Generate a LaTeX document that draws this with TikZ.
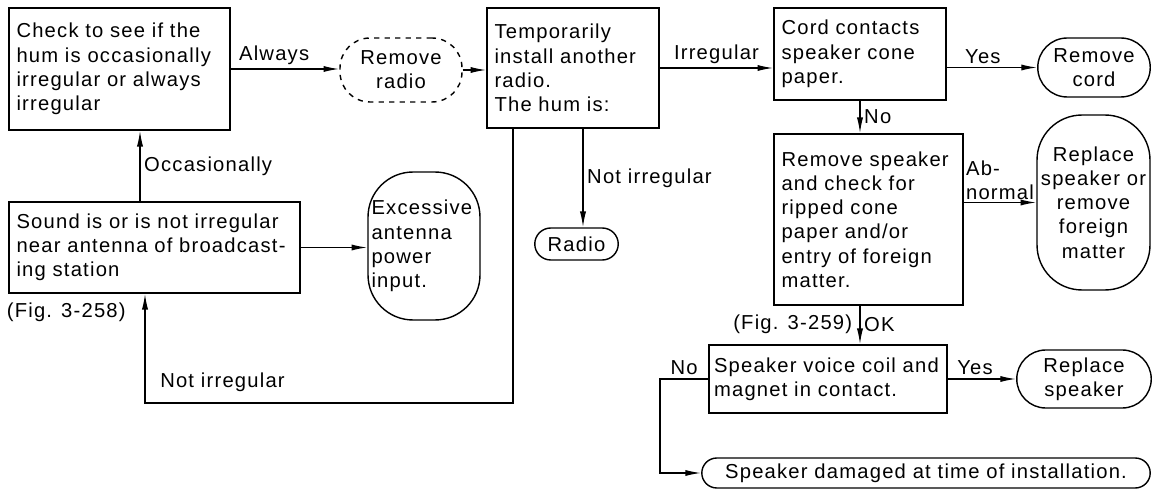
\documentclass[tikz,border=0pt]{standalone}
\usepackage{fontspec}
\setmainfont{Liberation Sans}[LetterSpace=6]
\usetikzlibrary{arrows.meta,shapes.misc}

\begin{document}
\begin{tikzpicture}[x=0.02cm,y=-0.02cm,
  every node/.style={font=\fontsize{11.5}{13.8}\selectfont},
  box/.style={draw,line width=0.8pt,rectangle,inner xsep=0.15cm,align=left},
  term/.style={draw,line width=0.8pt,rounded rectangle,align=center,inner sep=1pt},
  arr/.style={line width=0.8pt,-{Latex[length=9pt,width=3.5pt]}},
  lbl/.style={inner sep=2pt}]
\useasboundingbox (0,0) rectangle (1155,489);

% Nodes (checks)
\node[box,minimum width=4.42cm,minimum height=2.44cm,text width=4.12cm] (check) at (119.5,69)
  {Check to see if the\\hum is occasionally\\irregular or always\\irregular};
\node[draw,dashed,line width=0.8pt,rounded corners=0.6cm,minimum width=2.44cm,minimum height=1.28cm,align=center] (rmradio) at (401,70)
  {Remove\\radio};
\node[box,minimum width=3.44cm,minimum height=2.4cm,text width=3.14cm] (temp) at (573,68)
  {Temporarily\\install another\\radio.\\The hum is:};
\node[box,minimum width=3.44cm,minimum height=1.84cm,text width=3.14cm] (cord) at (860,54)
  {Cord contacts\\speaker cone\\paper.};
\node[term,minimum width=2.32cm,minimum height=1.18cm] (rmcord) at (1094,67.5)
  {Remove\\cord};
\node[box,minimum width=3.78cm,minimum height=3.42cm,text width=3.48cm] (rmspk) at (868.5,219.5)
  {Remove speaker\\and check for\\ripped cone\\paper and/or\\entry of foreign\\matter.};
\node[draw,line width=0.8pt,rounded corners=0.9cm,minimum width=2.26cm,minimum height=3.5cm,inner xsep=0.03cm,text width=2.2cm,align=center] (replspk) at (1093.5,202.5)
  {Replace\\speaker or\\remove\\foreign\\matter};
\node[box,minimum width=4.76cm,minimum height=1.36cm,inner xsep=0.1cm,text width=4.56cm] (coil) at (828,379)
  {Speaker voice coil and\\magnet in contact.};
\node[term,minimum width=2.76cm,minimum height=1.16cm] (replace) at (1084,379)
  {Replace\\speaker};
\node[term,minimum width=9.04cm,minimum height=0.6cm] (damaged) at (926,473)
  {Speaker damaged at time of installation.};
\node[box,minimum width=5.82cm,minimum height=1.82cm,text width=5.52cm] (sound) at (154.5,247.5)
  {Sound is or is not irregular\\near antenna of broadcast-\\ing station};
\node[draw,line width=0.8pt,rounded corners=0.9cm,minimum width=2.24cm,minimum height=2.96cm,inner xsep=0.07cm,text width=2.1cm,align=left] (excess) at (424,246)
  {Excessive\\antenna\\power\\input.};
\node[term,minimum width=1.74cm,minimum height=0.64cm] (radio) at (576.5,244) {Radio};

% Figure references
\node[lbl,anchor=west] (fig258) at (3,312) {(Fig. 3-258)};
\node[lbl,anchor=east] (fig259) at (856,324) {(Fig. 3-259)};

% Edges (answers)
\coordinate (loopb) at (145,403);
\coordinate (nobend) at (660,379);
\draw[arr] (check.east) -- (check.east -| rmradio.west) node[lbl,pos=0.4,above] {Always};
\draw[arr] (rmradio.east) -- (rmradio.east -| temp.west);
\draw[arr] (temp.east) -- (temp.east -| cord.west) node[lbl,midway,above] {Irregular};
\draw[arr] (rmcord.west -| cord.east) -- (rmcord.west) node[lbl,pos=0.4,above] {Yes};
\draw[arr] (cord.south) -- (cord.south |- rmspk.north) node[lbl,midway,right] {No};
\draw[arr] (replspk.west -| rmspk.east) -- (replspk.west) node[inner sep=1pt,midway,above,align=left] {Ab-\\normal};
\draw[arr] (cord.south |- rmspk.south) -- (cord.south |- coil.north) node[lbl,midway,right] {OK};
\draw[arr] (coil.east) -- (replace.west) node[lbl,pos=0.4,above] {Yes};
\draw[arr] (coil.west) -- (nobend) node[lbl,midway,above] {No} |- (damaged.west);
\draw[arr] ([xshift=-0.29cm]sound.north) -- ([xshift=-0.29cm]sound.north |- check.south) node[lbl,midway,right] {Occasionally};
\draw[arr] (sound.east) -- (sound.east -| excess.west);
\draw[arr] ([xshift=-1.2cm]temp.south) |- (loopb) node[lbl,pos=0.985,above right,yshift=4pt] {Not irregular} -- (loopb |- sound.south);
\draw[arr] ([xshift=0.2cm]temp.south) -- ([xshift=0.2cm]temp.south |- radio.north) node[lbl,midway,right] {Not irregular};
\end{tikzpicture}
\end{document}
